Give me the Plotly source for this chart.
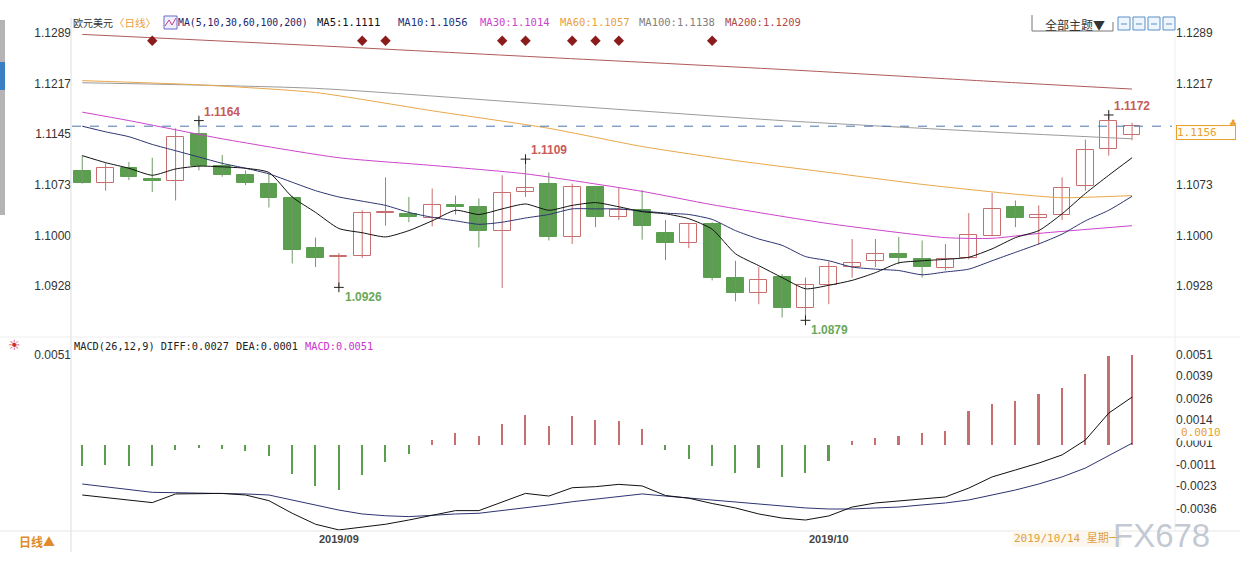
import plotly.graph_objects as go

# ---------------- data ----------------
idx = list(range(46))
opens = [1.1092, 1.1075, 1.1097, 1.1081, 1.1078, 1.1145, 1.1099, 1.1086, 1.1073, 1.1053,
         1.0982, 1.0969, 1.0971, 1.1032, 1.1031, 1.1025, 1.1044, 1.1040, 1.1007, 1.1062,
         1.1073, 1.0998, 1.1069, 1.1027, 1.1037, 1.1004, 1.0990, 1.1016, 1.0939, 1.0918,
         1.0941, 1.0896, 1.0929, 1.0955, 1.0963, 1.0974, 1.0966, 1.0954, 1.0968, 1.1000,
         1.1040, 1.1025, 1.1030, 1.1070, 1.1123, 1.1143]
highs = [1.1114, 1.1103, 1.1105, 1.1111, 1.1153, 1.1164, 1.1115, 1.1093, 1.1088, 1.1057,
         1.0997, 1.0975, 1.1036, 1.1083, 1.1055, 1.1067, 1.1057, 1.1053, 1.1086, 1.1109,
         1.1090, 1.1074, 1.1071, 1.1069, 1.1065, 1.1022, 1.1017, 1.1019, 1.0964, 1.0955,
         1.0945, 1.0940, 1.0963, 1.0995, 1.0995, 1.0998, 1.0993, 1.0988, 1.1032, 1.1061,
         1.1050, 1.1043, 1.1083, 1.1137, 1.1172, 1.1161]
lows = [1.1074, 1.1064, 1.1079, 1.1062, 1.1050, 1.1093, 1.1084, 1.1072, 1.1040, 1.0960,
        1.0955, 1.0926, 1.0968, 1.1014, 1.1019, 1.1013, 1.1030, 1.0983, 1.0925, 1.1055,
        1.0993, 1.0988, 1.1012, 1.1022, 1.0994, 1.0965, 1.0982, 1.0936, 1.0906, 1.0902,
        1.0883, 1.0879, 1.0902, 1.0940, 1.0955, 1.0959, 1.0940, 1.0950, 1.0966, 1.0999,
        1.1012, 1.0987, 1.1022, 1.1064, 1.1114, 1.1136]
closes = [1.1075, 1.1097, 1.1083, 1.1078, 1.1141, 1.1099, 1.1087, 1.1075, 1.1054, 1.0980,
          1.0968, 1.0971, 1.1032, 1.1034, 1.1026, 1.1044, 1.1040, 1.1007, 1.1061, 1.1068,
          1.0998, 1.1069, 1.1027, 1.1037, 1.1013, 1.0990, 1.1016, 1.0940, 1.0918, 1.0936,
          1.0896, 1.0929, 1.0955, 1.0961, 1.0974, 1.0968, 1.0955, 1.0966, 1.1001, 1.1038,
          1.1025, 1.1029, 1.1068, 1.1122, 1.1163, 1.1156]

ma5 = [1.1114, 1.1104, 1.1096, 1.1086, 1.1095, 1.1099, 1.1098, 1.1096, 1.1090, 1.1055,
       1.1033, 1.1010, 1.1004, 1.0998, 1.1007, 1.1021, 1.1036, 1.1030, 1.1038, 1.1045,
       1.1036, 1.1043, 1.1047, 1.1041, 1.1034, 1.1031, 1.1024, 1.1009, 1.0974, 1.0957,
       1.0940, 1.0924, 1.0929, 1.0936, 1.0947, 1.0961, 1.0964, 1.0966, 1.0969, 1.0981,
       1.0997, 1.1007, 1.1031, 1.1060, 1.1086, 1.1111]
ma10 = [1.1156, 1.1148, 1.1141, 1.1130, 1.1121, 1.1112, 1.1103, 1.1096, 1.1088, 1.1076,
        1.1064, 1.1055, 1.1049, 1.1043, 1.1033, 1.1026, 1.1021, 1.1016, 1.1019, 1.1025,
        1.1030, 1.1038, 1.1038, 1.1038, 1.1035, 1.1032, 1.1030, 1.1023, 1.1007, 1.0995,
        1.0986, 1.0970, 1.0964, 1.0955, 1.0952, 1.0950, 1.0944, 1.0948, 1.0952, 1.0964,
        1.0976, 1.0988, 1.1002, 1.1021, 1.1036, 1.1056]
ma30_idx = [0, 2, 6, 11, 15, 19, 24, 27, 32, 37, 39, 41, 45]
ma30 = [1.1176, 1.1164, 1.1138, 1.1111, 1.1100, 1.1088, 1.1063, 1.1044, 1.1017, 1.0997,
        1.0996, 1.1003, 1.1014]
ma60_idx = [0, 5, 10, 15, 20, 24, 28, 32, 36, 40, 42, 45]
ma60 = [1.1221, 1.1215, 1.1204, 1.1178, 1.1153, 1.1127, 1.1107, 1.1090, 1.1073, 1.1059,
        1.1054, 1.1057]
ma100_idx = [0, 10, 20, 30, 40, 45]
ma100 = [1.1218, 1.1210, 1.1187, 1.1164, 1.1146, 1.1138]
ma200_idx = [0, 10, 20, 30, 40, 45]
ma200 = [1.1287, 1.1271, 1.1254, 1.1237, 1.1218, 1.1209]

diff = [-0.00282, -0.00297, -0.00310, -0.00325, -0.00276, -0.00273, -0.00273, -0.00282,
        -0.00314, -0.00385, -0.00447, -0.00479, -0.00464, -0.00447, -0.00423, -0.00395,
        -0.00370, -0.00370, -0.00320, -0.00273, -0.00288, -0.00241, -0.00235, -0.00222,
        -0.00231, -0.00285, -0.00300, -0.00330, -0.00355, -0.00389, -0.00412, -0.00423,
        -0.00400, -0.00350, -0.00327, -0.00316, -0.00305, -0.00293, -0.00243, -0.00180,
        -0.00141, -0.00102, -0.00056, 0.00028, 0.00180, 0.00270]
dea = [-0.00220, -0.00235, -0.00250, -0.00267, -0.00269, -0.00271, -0.00273, -0.00276,
       -0.00282, -0.00310, -0.00338, -0.00367, -0.00389, -0.00399, -0.00404, -0.00395,
       -0.00389, -0.00385, -0.00370, -0.00357, -0.00338, -0.00320, -0.00305, -0.00288,
       -0.00276, -0.00288, -0.00299, -0.00310, -0.00321, -0.00333, -0.00344, -0.00355,
       -0.00361, -0.00361, -0.00355, -0.00350, -0.00338, -0.00327, -0.00310, -0.00282,
       -0.00254, -0.00220, -0.00180, -0.00130, -0.00062, 0.00010]
macd = [-0.00117, -0.00113, -0.00117, -0.00117, -0.00026, -0.00019, -0.00023, -0.00032,
        -0.00060, -0.00164, -0.00230, -0.00254, -0.00169, -0.00098, -0.00051, 0.00028,
        0.00066, 0.00051, 0.00117, 0.00169, 0.00107, 0.00165, 0.00141, 0.00137,
        0.00090, -0.00030, -0.00080, -0.00120, -0.00160, -0.00130, -0.00180, -0.00160,
        -0.00090, 0.00020, 0.00040, 0.00050, 0.00070, 0.00080, 0.00190, 0.00230,
        0.00250, 0.00290, 0.00320, 0.00400, 0.00500, 0.00510]

event_idx = [3, 12, 13, 18, 19, 21, 22, 23, 27]
high_marks = [5, 19, 44]
low_marks = [11, 31]

price_ticks = [1.1289, 1.1217, 1.1145, 1.1073, 1.1000, 1.0928]
macd_ticks = [0.0051, 0.0039, 0.0026, 0.0014, 0.0001, -0.0011, -0.0023, -0.0036]
month_idx = [11, 32]
month_labels = ["2019/09", "2019/10"]
cursor_date = "2019/10/14 星期一"
cursor_macd = 0.0010

# ---------------- layout helpers ----------------
W, H = 1240, 568
L, R, T, B = 72, 65, 18, 37
PW, PH = W - L - R, H - T - B


def px(x):
    return (x - L) / PW


def py(y):
    return (H - B - y) / PH


UP = "#c86e6e"
DOWN_FILL = "#5c9e50"
DOWN_WICK = "#6f9a66"
MONO = "DejaVu Sans Mono, Noto Sans CJK SC"
CJK = "Noto Sans CJK SC"
TICKF = dict(family="Liberation Sans", size=12, color="#333333")

fig = go.Figure()

# wicks
for up in (True, False):
    xs, ys = [], []
    for i in idx:
        if (closes[i] >= opens[i]) == up:
            xs += [i, i, None]
            ys += [lows[i], highs[i], None]
    fig.add_trace(go.Scatter(x=xs, y=ys, mode="lines", xaxis="x", yaxis="y",
                             line=dict(color=UP if up else DOWN_WICK, width=1),
                             hoverinfo="skip", showlegend=False))

# bodies
up_i = [i for i in idx if closes[i] >= opens[i]]
dn_i = [i for i in idx if closes[i] < opens[i]]
fig.add_trace(go.Bar(x=up_i, y=[closes[i] - opens[i] for i in up_i], base=[opens[i] for i in up_i],
                     width=0.72, marker=dict(color="white", line=dict(color=UP, width=1)),
                     xaxis="x", yaxis="y", showlegend=False))
fig.add_trace(go.Bar(x=dn_i, y=[opens[i] - closes[i] for i in dn_i], base=[closes[i] for i in dn_i],
                     width=0.72, marker=dict(color=DOWN_FILL, line=dict(color=DOWN_FILL, width=1)),
                     xaxis="x", yaxis="y", showlegend=False))

# moving averages
ma_specs = [
    (ma200_idx, ma200, "#b05a5a"),
    (ma100_idx, ma100, "#9a9a9a"),
    (ma60_idx, ma60, "#e8a848"),
    (ma30_idx, ma30, "#cc44cc"),
    (idx, ma10, "#2c3470"),
    (idx, ma5, "#111111"),
]
for xs, ys, col in ma_specs:
    fig.add_trace(go.Scatter(x=xs, y=ys, mode="lines", xaxis="x", yaxis="y",
                             line=dict(color=col, width=1, shape="spline", smoothing=0.6),
                             hoverinfo="skip", showlegend=False))

# event diamonds
fig.add_trace(go.Scatter(x=event_idx, y=[1.1278] * len(event_idx), mode="markers",
                         marker=dict(symbol="diamond", size=8, color="#8b1c1c"),
                         xaxis="x", yaxis="y", showlegend=False))

# high / low markers
mk_x = high_marks + low_marks
mk_y = [highs[i] for i in high_marks] + [lows[i] for i in low_marks]
fig.add_trace(go.Scatter(x=mk_x, y=mk_y, mode="markers",
                         marker=dict(symbol="cross-thin", size=7, line=dict(color="#222", width=1)),
                         xaxis="x", yaxis="y", showlegend=False))

# right-side price axis twin (invisible trace)
fig.add_trace(go.Scatter(x=[0], y=[price_ticks[0]], mode="markers", marker=dict(opacity=0),
                         xaxis="x", yaxis="y3", showlegend=False, hoverinfo="skip"))

# MACD
fig.add_trace(go.Bar(x=idx, y=macd, width=0.07,
                     marker=dict(color=[UP if v >= 0 else DOWN_FILL for v in macd], line=dict(width=0)),
                     xaxis="x2", yaxis="y2", showlegend=False))
fig.add_trace(go.Scatter(x=idx, y=dea, mode="lines", line=dict(color="#2c3470", width=1),
                         xaxis="x2", yaxis="y2", showlegend=False))
fig.add_trace(go.Scatter(x=idx, y=diff, mode="lines", line=dict(color="#111111", width=1),
                         xaxis="x2", yaxis="y2", showlegend=False))
fig.add_trace(go.Scatter(x=[0], y=[macd_ticks[0]], mode="markers", marker=dict(opacity=0),
                         xaxis="x2", yaxis="y4", showlegend=False, hoverinfo="skip"))

xr = [-0.44, 46.84]
main_dom = [py(333), 1]
macd_dom = [0, py(340)]
main_rng = [1.08609, 1.13104]
macd_rng = [-0.00485, 0.00592]
right_ticks = [v for v in price_ticks if abs(v - closes[-1]) > 0.0015]

fig.update_layout(
    width=W, height=H, margin=dict(l=L, r=R, t=T, b=B),
    paper_bgcolor="white", plot_bgcolor="white", barmode="overlay", bargap=0,
    showlegend=False,
    xaxis=dict(domain=[0, 1], range=xr, showticklabels=False, showgrid=False, zeroline=False,
               anchor="y"),
    yaxis=dict(domain=main_dom, range=main_rng, tickvals=price_ticks,
               ticktext=[f"{v:.4f}" for v in price_ticks], side="left", showgrid=False,
               zeroline=False, tickfont=TICKF, ticks=""),
    yaxis3=dict(overlaying="y", range=main_rng, tickvals=right_ticks,
                ticktext=[f"{v:.4f}" for v in right_ticks], side="right", showgrid=False,
                zeroline=False, tickfont=TICKF, ticks=""),
    xaxis2=dict(domain=[0, 1], range=xr, tickvals=month_idx,
                ticktext=[f"<b>{t}</b>" for t in month_labels], showgrid=False, zeroline=False,
                anchor="y2", ticks="", tickfont=dict(family="Liberation Sans", size=11, color="#444")),
    yaxis2=dict(domain=macd_dom, range=macd_rng, tickvals=macd_ticks,
                ticktext=[f"{v:.4f}" for v in macd_ticks], side="right", showgrid=False,
                zeroline=False, tickfont=TICKF, ticks="", anchor="x2"),
    yaxis4=dict(overlaying="y2", range=macd_rng, tickvals=[macd_ticks[0]],
                ticktext=[f"{macd_ticks[0]:.4f}"], side="left", showgrid=False,
                zeroline=False, tickfont=TICKF, ticks=""),
)

shapes = []
# current price dashed line
shapes.append(dict(type="line", xref="paper", yref="y", x0=0, x1=px(1172),
                   y0=closes[-1], y1=closes[-1], line=dict(color="#4a78b0", width=1, dash="dash")))
# panel borders
line_c = "#dddddd"
shapes.append(dict(type="line", xref="paper", yref="paper", x0=px(71), x1=px(71), y0=py(552), y1=py(18),
                   line=dict(color=line_c, width=1)))
shapes.append(dict(type="line", xref="paper", yref="paper", x0=px(1175), x1=px(1175), y0=py(531), y1=py(36),
                   line=dict(color="#eeeeee", width=1)))
shapes.append(dict(type="line", xref="paper", yref="paper", x0=px(0), x1=px(1240), y0=py(531), y1=py(531),
                   line=dict(color="#e6e6e6", width=1)))
shapes.append(dict(type="line", xref="paper", yref="paper", x0=px(0), x1=px(1240), y0=py(337), y1=py(337),
                   line=dict(color="#eeeeee", width=1)))
# left strip
shapes.append(dict(type="rect", xref="paper", yref="paper", x0=px(0), x1=px(5), y0=py(215), y1=py(20),
                   line=dict(width=0), fillcolor="#b4b4b4"))
shapes.append(dict(type="rect", xref="paper", yref="paper", x0=px(0), x1=px(5), y0=py(90), y1=py(62),
                   line=dict(width=0), fillcolor="#3a7fc4"))
# legend icon
shapes.append(dict(type="rect", xref="paper", yref="paper", x0=px(164), x1=px(177), y0=py(29), y1=py(16),
                   line=dict(color="#6a6ac8", width=1), fillcolor="#eef0ff"))
shapes.append(dict(type="path", xref="paper", yref="paper",
                   path=f"M {px(165)},{py(26)} L {px(169)},{py(20)} L {px(172)},{py(25)} L {px(176)},{py(18)}",
                   line=dict(color="#c04080", width=1)))
# theme selector box
shapes.append(dict(type="path", xref="paper", yref="paper",
                   path=f"M {px(1032)},{py(15)} L {px(1032)},{py(31)} L {px(1113)},{py(31)} L {px(1113)},{py(22)}",
                   line=dict(color="#777", width=1)))
for x0 in (1118, 1133, 1148, 1163):
    shapes.append(dict(type="rect", xref="paper", yref="paper", x0=px(x0), x1=px(x0 + 12),
                       y0=py(30), y1=py(17), line=dict(color="#5b8fc7", width=1), fillcolor="#eef5fc"))
    shapes.append(dict(type="line", xref="paper", yref="paper", x0=px(x0 + 3), x1=px(x0 + 9),
                       y0=py(24), y1=py(24), line=dict(color="#5b8fc7", width=1)))
fig.update_layout(shapes=shapes)

ann = []


def text(x, y, s, color="#222", size=11, family=MONO, anchor="left", **kw):
    ann.append(dict(xref="paper", yref="paper", x=px(x), y=py(y), text=s, showarrow=False,
                    xanchor=anchor, yanchor="middle", font=dict(family=family, size=size, color=color), **kw))


# top legend
text(71, 22, "欧元美元", "#333", 10, CJK)
text(112, 22, "〈日线〉", "#e8a040", 10.5, CJK)
text(176, 22, "MA(5,10,30,60,100,200)", "#22226a", 9.8)
text(315, 22, f"MA5:{ma5[-1]:.4f}", "#111", 10.5)
text(396, 22, f"MA10:{ma10[-1]:.4f}", "#22307a", 10.5)
text(478, 22, f"MA30:{ma30[-1]:.4f}", "#cc44cc", 10.5)
text(558, 22, f"MA60:{ma60[-1]:.4f}", "#e8a040", 10.5)
text(637, 22, f"MA100:{ma100[-1]:.4f}", "#808080", 10.5)
text(723, 22, f"MA200:{ma200[-1]:.4f}", "#b04848", 10.5)

# macd legend
text(72, 346, f"MACD(26,12,9) DIFF:{diff[-1]:.4f}", "#222", 10.3)
text(234, 346, f"DEA:{dea[-1]:.4f}", "#222", 10.3)
text(303, 346, f"MACD:{macd[-1]:.4f}", "#cc33cc", 10.3)
text(14, 345, "☀", "#d03030", 14, "DejaVu Sans", anchor="center")

# high / low labels
for i in high_marks:
    ann.append(dict(xref="x", yref="y", x=i, y=highs[i], text=f"<b>{highs[i]:.4f}</b>", showarrow=False,
                    xanchor="left", yanchor="bottom", xshift=3, yshift=0,
                    font=dict(family="Liberation Sans", size=12, color="#c85a5a")))
for i in low_marks:
    ann.append(dict(xref="x", yref="y", x=i, y=lows[i], text=f"<b>{lows[i]:.4f}</b>", showarrow=False,
                    xanchor="left", yanchor="top", xshift=4, yshift=-1,
                    font=dict(family="Liberation Sans", size=12, color="#6aa85a")))

# current price box
ann.append(dict(xref="paper", yref="y", x=px(1176), y=closes[-1], text=f"{closes[-1]:.4f}", showarrow=False,
                xanchor="left", yanchor="top", yshift=1, width=58, align="left",
                font=dict(family=MONO, size=11, color="#e8a030"), bordercolor="#e8a030",
                borderwidth=1, borderpad=0, bgcolor="#fffdf5"))
text(1233, 123, "♣", "#e8a030", 9, "DejaVu Sans", anchor="center")
# cursor value on macd axis
ann.append(dict(xref="paper", yref="y2", x=px(1179), y=cursor_macd, text=f"{cursor_macd:.4f}",
                showarrow=False, xanchor="left", yanchor="middle", yshift=-5, bgcolor="white",
                font=dict(family=MONO, size=11, color="#e8a030")))

# top-right selector
text(1043, 24, "全部主题▼", "#333", 12, CJK)

# bottom texts
text(17, 541, "<b>日线▲</b>", "#e08a2a", 12, CJK)
text(1012, 538, cursor_date, "#e0a040", 11, MONO, bgcolor="#fbf7ee")
text(1161, 535, "FX678", "rgba(185,192,204,0.85)", 33, "Liberation Sans", anchor="center")

fig.update_layout(annotations=ann)

fig.write_html("out.html", config={"displayModeBar": False},
               post_script="document.body.style.margin='0px';document.body.style.overflow='hidden';")
